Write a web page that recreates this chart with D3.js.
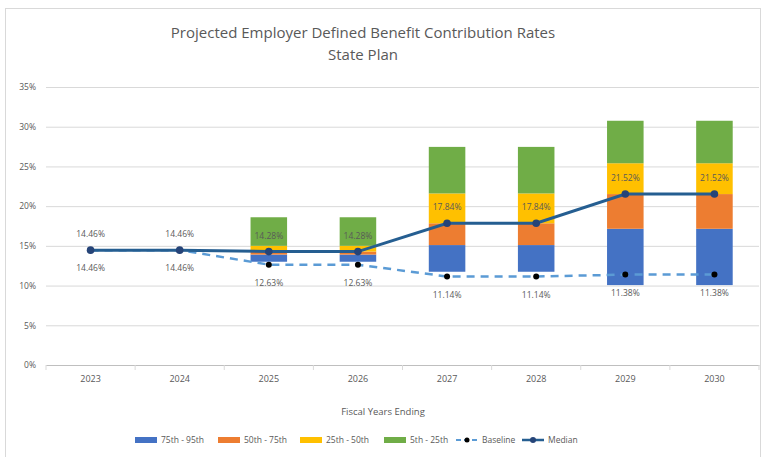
<!DOCTYPE html>
<html>
<head>
<meta charset="utf-8">
<script src="https://cdn.jsdelivr.net/npm/d3@7"></script>
<style>
  html, body { margin: 0; padding: 0; background: #fff; }
  svg { display: block; }
  text { font-family: "Open Sans", "Noto Sans", sans-serif; fill: #595959; }
</style>
</head>
<body>
<svg id="chart" width="763" height="457"></svg>
<script>
// Fiscal years and percentile bands of the projected employer contribution rate (%)
const years    = ["2023", "2024", "2025", "2026", "2027", "2028", "2029", "2030"];
const p95      = [14.46, 14.46, 13.00, 13.00, 11.74, 11.74, 10.06, 10.06];
const p75      = [14.46, 14.46, 13.90, 13.90, 15.10, 15.10, 17.15, 17.15];
const median   = [14.46, 14.46, 14.28, 14.28, 17.84, 17.84, 21.52, 21.52];
const p25      = [14.46, 14.46, 15.00, 15.00, 21.60, 21.60, 25.40, 25.40];
const p5       = [14.46, 14.46, 18.60, 18.60, 27.46, 27.46, 30.75, 30.75];
const baseline = [14.46, 14.46, 12.63, 12.63, 11.14, 11.14, 11.38, 11.38];
const yTicks   = [0, 5, 10, 15, 20, 25, 30, 35];

const bands = [
  { name: "75th - 95th", lo: p95,    hi: p75,    color: "#4472c4" },
  { name: "50th - 75th", lo: p75,    hi: median, color: "#ed7d31" },
  { name: "25th - 50th", lo: median, hi: p25,    color: "#ffc000" },
  { name: "5th - 25th",  lo: p25,    hi: p5,     color: "#70ad47" }
];

const svg = d3.select("#chart");
const plot = { left: 46, right: 759, top: 87, bottom: 365 };

// chart frame
svg.append("rect")
  .attr("x", 5.5).attr("y", 8.5).attr("width", 755).attr("height", 460)
  .attr("fill", "#fff").attr("stroke", "#d9d9d9");

const x = d3.scaleBand().domain(years).range([plot.left, plot.right]).paddingInner(0.59).paddingOuter(0.295);
const xc = d => x(d) + x.bandwidth() / 2;
const y = d3.scaleLinear().domain([0, 35]).range([plot.bottom, plot.top]);

// title
svg.append("text").attr("x", 363).attr("y", 38).attr("text-anchor", "middle")
  .attr("font-size", 15).text("Projected Employer Defined Benefit Contribution Rates");
svg.append("text").attr("x", 363).attr("y", 60).attr("text-anchor", "middle")
  .attr("font-size", 15).text("State Plan");

// gridlines + y axis labels
const yAxis = d3.axisLeft(y).tickValues(yTicks)
  .tickSize(-(plot.right - plot.left)).tickPadding(10)
  .tickFormat(d => d + "%");
const gy = svg.append("g").attr("transform", `translate(${plot.left},0)`).call(yAxis);
gy.select(".domain").remove();
gy.selectAll(".tick line").attr("stroke", "#d9d9d9");
gy.selectAll(".tick text").attr("font-size", 8.5).attr("fill", "#595959")
  .style("font-family", '"Open Sans", sans-serif');

// x axis
const xAxis = d3.axisBottom(x).tickSize(0).tickPadding(11);
const gx = svg.append("g").attr("transform", `translate(0,${plot.bottom})`).call(xAxis);
gx.select(".domain").attr("stroke", "#bfbfbf");
gx.selectAll(".tick text").attr("font-size", 9).attr("fill", "#595959")
  .style("font-family", '"Open Sans", sans-serif');
// category boundary tick marks
gx.selectAll(".bound").data(d3.range(years.length + 1)).enter().append("line")
  .attr("x1", i => plot.left + i * (plot.right - plot.left) / years.length)
  .attr("x2", i => plot.left + i * (plot.right - plot.left) / years.length)
  .attr("y1", 0).attr("y2", 5).attr("stroke", "#d9d9d9");

svg.append("text").attr("x", 383).attr("y", 415).attr("text-anchor", "middle")
  .attr("font-size", 9.5).text("Fiscal Years Ending");

// stacked percentile bars
bands.forEach(b => {
  svg.append("g").selectAll("rect").data(years).enter().append("rect")
    .attr("x", d => x(d))
    .attr("width", x.bandwidth())
    .attr("y", (d, i) => y(b.hi[i]))
    .attr("height", (d, i) => Math.max(0, y(b.lo[i]) - y(b.hi[i])))
    .attr("fill", b.color);
});

// baseline (dashed) with markers
const line = vals => d3.line().x((d, i) => xc(years[i])).y(d => y(d))(vals);
svg.append("path").attr("d", line(baseline)).attr("fill", "none")
  .attr("stroke", "#5b9bd5").attr("stroke-width", 2.5).attr("stroke-dasharray", "8,6");
svg.append("g").selectAll("circle").data(baseline).enter().append("circle")
  .attr("cx", (d, i) => xc(years[i])).attr("cy", d => y(d)).attr("r", 3).attr("fill", "#000");

// median line with markers
svg.append("path").attr("d", line(median)).attr("fill", "none")
  .attr("stroke", "#255e91").attr("stroke-width", 3);
svg.append("g").selectAll("circle").data(median).enter().append("circle")
  .attr("cx", (d, i) => xc(years[i])).attr("cy", d => y(d)).attr("r", 3.8).attr("fill", "#264478");

// value labels
svg.append("g").selectAll("text").data(median).enter().append("text")
  .attr("x", (d, i) => xc(years[i])).attr("y", d => y(d) - 13)
  .attr("text-anchor", "middle").attr("font-size", 8.5)
  .text(d => d.toFixed(2) + "%");
svg.append("g").selectAll("text").data(baseline).enter().append("text")
  .attr("x", (d, i) => xc(years[i])).attr("y", d => y(d) + 21)
  .attr("text-anchor", "middle").attr("font-size", 8.5)
  .text(d => d.toFixed(2) + "%");

// legend
const lg = svg.append("g").attr("transform", "translate(0,440)");
const legendItems = [
  { name: "75th - 95th", type: "bar", color: "#4472c4", x: 135 },
  { name: "50th - 75th", type: "bar", color: "#ed7d31", x: 218 },
  { name: "25th - 50th", type: "bar", color: "#ffc000", x: 300 },
  { name: "5th - 25th",  type: "bar", color: "#70ad47", x: 384 },
  { name: "Baseline",    type: "base", x: 456 },
  { name: "Median",      type: "med",  x: 522 }
];
legendItems.forEach(it => {
  const g = lg.append("g").attr("transform", `translate(${it.x},0)`);
  if (it.type === "bar") {
    g.append("rect").attr("x", 0).attr("y", -3).attr("width", 22).attr("height", 6).attr("fill", it.color);
  } else if (it.type === "base") {
    g.append("line").attr("x1", 0).attr("x2", 22).attr("y1", 0).attr("y2", 0)
      .attr("stroke", "#5b9bd5").attr("stroke-width", 2).attr("stroke-dasharray", "5,3");
    g.append("circle").attr("cx", 11).attr("cy", 0).attr("r", 2.5).attr("fill", "#000");
  } else {
    g.append("line").attr("x1", 0).attr("x2", 22).attr("y1", 0).attr("y2", 0)
      .attr("stroke", "#255e91").attr("stroke-width", 2.5);
    g.append("circle").attr("cx", 11).attr("cy", 0).attr("r", 3).attr("fill", "#264478");
  }
  g.append("text").attr("x", 26).attr("y", 3).attr("font-size", 8.5).text(it.name);
});
</script>
</body>
</html>
